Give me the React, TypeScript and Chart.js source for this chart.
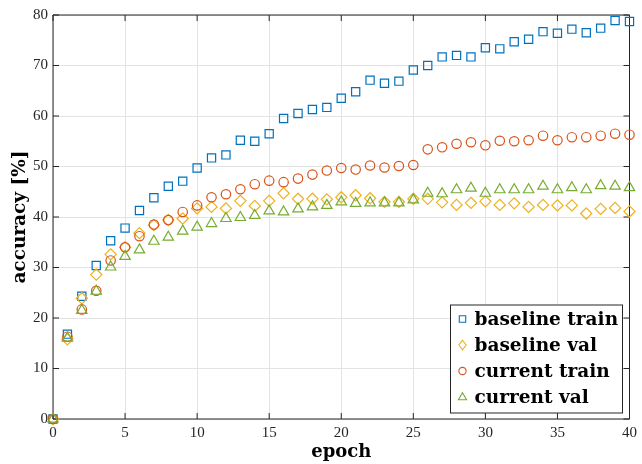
import React, { useEffect, useRef } from 'react';
import { Chart, registerables } from 'chart.js';

Chart.register(...registerables);

const epochs = [0, 1, 2, 3, 4, 5, 6, 7, 8, 9, 10, 11, 12, 13, 14, 15, 16, 17, 18, 19, 20, 21, 22, 23, 24, 25, 26, 27, 28, 29, 30, 31, 32, 33, 34, 35, 36, 37, 38, 39, 40];
const baselineTrain = [0, 16.8, 24.3, 30.4, 35.3, 37.8, 41.3, 43.8, 46.1, 47.1, 49.7, 51.7, 52.3, 55.2, 55.0, 56.5, 59.5, 60.5, 61.3, 61.7, 63.5, 64.8, 67.1, 66.5, 66.9, 69.1, 70.0, 71.7, 72.0, 71.7, 73.5, 73.3, 74.7, 75.2, 76.7, 76.4, 77.2, 76.5, 77.4, 78.9, 78.7];
const baselineVal = [0, 15.8, 23.9, 28.6, 32.6, 34.0, 36.8, 38.4, 39.4, 39.7, 41.7, 42.0, 41.7, 43.2, 42.2, 43.2, 44.7, 43.6, 43.6, 43.5, 43.9, 44.3, 43.7, 43.0, 43.0, 43.6, 43.6, 42.9, 42.4, 42.8, 43.1, 42.4, 42.7, 42.0, 42.4, 42.3, 42.3, 40.7, 41.6, 41.8, 41.1];
const currentTrain = [0, 16.3, 21.7, 25.4, 31.4, 34.0, 36.2, 38.5, 39.4, 41.0, 42.3, 43.9, 44.5, 45.5, 46.5, 47.2, 46.9, 47.6, 48.4, 49.2, 49.7, 49.4, 50.2, 49.8, 50.1, 50.3, 53.4, 53.8, 54.5, 54.8, 54.2, 55.1, 55.0, 55.2, 56.1, 55.2, 55.8, 55.8, 56.1, 56.5, 56.3];
const currentVal = [0, 16.0, 21.5, 25.3, 30.1, 32.2, 33.5, 35.2, 36.0, 37.2, 38.0, 38.7, 39.7, 39.9, 40.3, 41.2, 41.0, 41.6, 42.0, 42.3, 43.0, 42.7, 42.8, 42.8, 42.8, 43.4, 44.7, 44.6, 45.4, 45.7, 44.7, 45.4, 45.4, 45.4, 46.1, 45.4, 45.8, 45.4, 46.2, 46.1, 45.8];

const xTicks = [0, 5, 10, 15, 20, 25, 30, 35, 40];
const yTicks = [0, 10, 20, 30, 40, 50, 60, 70, 80];
const seriesLabels = ['baseline train', 'baseline val', 'current train', 'current val'];
const xTitle = 'epoch';
const yTitle = 'accuracy [%]';

const COLORS = ['#0072BD', '#EDB120', '#D95319', '#77AC30'];
const STYLES = ['rect', 'rectRot', 'circle', 'triangle'];
const RADII = [5.8, 5.6, 4.7, 6];
const AXIS = '#262626';

function drawMarker(ctx: CanvasRenderingContext2D, style: string, x: number, y: number, s: number) {
  ctx.beginPath();
  if (style === 'rect') {
    ctx.rect(x - s * 0.75, y - s * 0.75, s * 1.5, s * 1.5);
  } else if (style === 'rectRot') {
    ctx.moveTo(x, y - s * 1.1);
    ctx.lineTo(x + s * 0.85, y);
    ctx.lineTo(x, y + s * 1.1);
    ctx.lineTo(x - s * 0.85, y);
    ctx.closePath();
  } else if (style === 'circle') {
    ctx.arc(x, y, s * 0.85, 0, Math.PI * 2);
  } else {
    ctx.moveTo(x, y - s * 1.0);
    ctx.lineTo(x + s * 0.95, y + s * 0.65);
    ctx.lineTo(x - s * 0.95, y + s * 0.65);
    ctx.closePath();
  }
  ctx.stroke();
}

const boxPlugin = {
  id: 'matlabBox',
  beforeDatasetsDraw(chart: any) {
    const { ctx, chartArea } = chart;
    const { left, right, top, bottom } = chartArea;
    const xs = chart.scales.x;
    const ys = chart.scales.y;
    ctx.save();
    ctx.strokeStyle = AXIS;
    ctx.lineWidth = 1;
    ctx.beginPath();
    ctx.rect(left, top, right - left, bottom - top);
    ctx.stroke();
    const tl = 6;
    ctx.beginPath();
    for (const v of xTicks) {
      const px = xs.getPixelForValue(v);
      ctx.moveTo(px, bottom);
      ctx.lineTo(px, bottom - tl);
      ctx.moveTo(px, top);
      ctx.lineTo(px, top + tl);
    }
    for (const v of yTicks) {
      const py = ys.getPixelForValue(v);
      ctx.moveTo(left, py);
      ctx.lineTo(left + tl, py);
      ctx.moveTo(right, py);
      ctx.lineTo(right - tl, py);
    }
    ctx.stroke();
    ctx.restore();
  },
  afterDraw(chart: any) {
    const { ctx, chartArea } = chart;
    const boxRight = chartArea.right - 7;
    const boxBottom = chartArea.bottom - 6;
    const boxW = 172;
    const rowH = 26;
    const boxH = 108;
    const bx = boxRight - boxW;
    const by = boxBottom - boxH;
    ctx.save();
    ctx.fillStyle = '#ffffff';
    ctx.fillRect(bx, by, boxW, boxH);
    ctx.strokeStyle = AXIS;
    ctx.lineWidth = 1;
    ctx.strokeRect(bx, by, boxW, boxH);
    ctx.font = 'bold 18.5px "DejaVu Serif"';
    ctx.textBaseline = 'middle';
    ctx.textAlign = 'left';
    seriesLabels.forEach((lab, i) => {
      const cy = by + 14 + i * rowH;
      ctx.strokeStyle = COLORS[i];
      ctx.lineWidth = 1.1;
      drawMarker(ctx, STYLES[i], bx + 12, cy, 4.3);
      ctx.fillStyle = '#000000';
      ctx.fillText(lab, bx + 24, cy + 1);
    });
    ctx.restore();
  },
};

export default function App() {
  const canvasRef = useRef<HTMLCanvasElement | null>(null);

  useEffect(() => {
    const canvas = canvasRef.current;
    if (!canvas) return;
    const seriesValues = [baselineTrain, baselineVal, currentTrain, currentVal];
    const chart = new Chart(canvas, {
      type: 'scatter',
      data: {
        datasets: seriesValues.map((vals, i) => ({
          label: seriesLabels[i],
          data: epochs.map((e, j) => ({ x: e, y: vals[j] })),
          showLine: false,
          pointStyle: STYLES[i] as any,
          pointRadius: RADII[i],
          pointHoverRadius: RADII[i],
          pointBorderWidth: 1.2,
          borderColor: COLORS[i],
          pointBorderColor: COLORS[i],
          backgroundColor: 'rgba(0,0,0,0)',
          pointBackgroundColor: 'rgba(0,0,0,0)',
          order: 4 - i,
          clip: false as any,
        })),
      },
      plugins: [boxPlugin],
      options: {
        animation: false,
        responsive: false,
        maintainAspectRatio: false,
        devicePixelRatio: 1,
        layout: { padding: { left: 0, top: 15, right: 12, bottom: 0 } },
        plugins: {
          legend: { display: false },
          tooltip: { enabled: false },
        },
        events: [],
        scales: {
          x: {
            type: 'linear',
            min: 0,
            max: 40,
            afterBuildTicks: (s: any) => {
              s.ticks = xTicks.map((v) => ({ value: v }));
            },
            afterFit: (s: any) => {
              s.height = 45;
            },
            grid: { color: '#e3e3e3', drawTicks: false, lineWidth: 1 },
            border: { display: false },
            ticks: {
              padding: 5,
              color: AXIS,
              font: { family: '"Liberation Serif"', size: 15 },
              maxRotation: 0,
            },
            title: {
              display: true,
              text: xTitle,
              color: '#000000',
              font: { family: '"DejaVu Serif"', weight: 'bold', size: 18 },
              padding: { top: 0, bottom: 1 },
            },
          },
          y: {
            type: 'linear',
            min: 0,
            max: 80,
            afterBuildTicks: (s: any) => {
              s.ticks = yTicks.map((v) => ({ value: v }));
            },
            afterFit: (s: any) => {
              s.width = 53;
            },
            grid: { color: '#e3e3e3', drawTicks: false, lineWidth: 1 },
            border: { display: false },
            ticks: {
              padding: 5,
              color: AXIS,
              font: { family: '"Liberation Serif"', size: 15 },
            },
            title: {
              display: true,
              text: yTitle,
              color: '#000000',
              font: { family: '"DejaVu Serif"', weight: 'bold', size: 18.5 },
              padding: { top: 9, bottom: 0 },
            },
          },
        },
      } as any,
    });
    return () => {
      chart.destroy();
    };
  }, []);

  return (
    <div style={{ position: 'fixed', left: 0, top: 0, width: 642, height: 464, background: '#ffffff' }}>
      <canvas ref={canvasRef} width={642} height={464} style={{ display: 'block', width: 642, height: 464 }} />
    </div>
  );
}
